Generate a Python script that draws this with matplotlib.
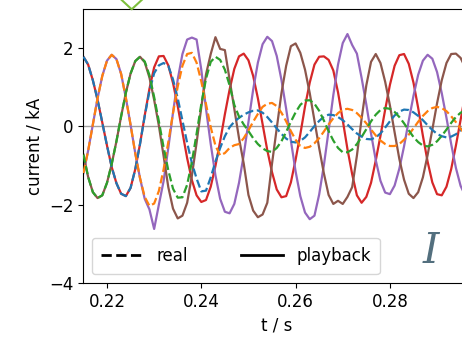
import matplotlib
matplotlib.use("Agg")
import matplotlib.pyplot as plt
from matplotlib.lines import Line2D
from matplotlib.ticker import MultipleLocator

# sample times in ms (1 ms spacing)
t_ms = [215, 216, 217, 218, 219, 220, 221, 222, 223, 224,
        225, 226, 227, 228, 229, 230, 231, 232, 233, 234,
        235, 236, 237, 238, 239, 240, 241, 242, 243, 244,
        245, 246, 247, 248, 249, 250, 251, 252, 253, 254,
        255, 256, 257, 258, 259, 260, 261, 262, 263, 264,
        265, 266, 267, 268, 269, 270, 271, 272, 273, 274,
        275, 276, 277, 278, 279, 280, 281, 282, 283, 284,
        285, 286, 287, 288, 289, 290, 291, 292, 293, 294,
        295, 296]

# real currents (dashed), kA
real_a = [1.78, 1.58, 1.18, 0.68, 0.10, -0.49, -1.04, -1.45, -1.72, -1.78,
          -1.57, -1.09, -0.45, 0.26, 0.90, 1.36, 1.56, 1.62, 1.55, 1.20,
          0.72, 0.15, -0.42, -0.93, -1.33, -1.66, -1.64, -1.30, -0.90, -0.55,
          -0.25, -0.02, 0.12, 0.22, 0.30, 0.36, 0.40, 0.41, 0.35, 0.24,
          0.10, -0.05, -0.19, -0.31, -0.39, -0.41, -0.37, -0.28, -0.14, 0.01,
          0.14, 0.25, 0.30, 0.29, 0.24, 0.16, 0.05, -0.07, -0.18, -0.26,
          -0.32, -0.33, -0.28, -0.18, -0.03, 0.13, 0.28, 0.38, 0.43, 0.42,
          0.36, 0.27, 0.16, 0.03, -0.09, -0.19, -0.25, -0.28, -0.26, -0.20,
          -0.10, 0.02]
real_b = [-1.19, -0.62, 0.05, 0.72, 1.29, 1.68, 1.83, 1.72, 1.34, 0.73,
          0.04, -0.69, -1.32, -1.80, -2.03, -1.97, -1.65, -1.10, -0.40, 0.34,
          1.02, 1.55, 1.85, 1.88, 1.63, 1.15, 0.57, -0.02, -0.49, -0.74,
          -0.68, -0.55, -0.48, -0.45, -0.30, -0.10, 0.12, 0.32, 0.50, 0.58,
          0.60, 0.52, 0.35, 0.13, -0.12, -0.34, -0.50, -0.55, -0.52, -0.43,
          -0.30, -0.13, 0.05, 0.21, 0.34, 0.43, 0.45, 0.42, 0.34, 0.22,
          0.08, -0.08, -0.23, -0.36, -0.45, -0.50, -0.50, -0.45, -0.34, -0.21,
          -0.05, 0.12, 0.27, 0.39, 0.47, 0.50, 0.47, 0.39, 0.26, 0.11,
          -0.06, -0.21]
real_c = [-0.72, -1.29, -1.68, -1.83, -1.76, -1.44, -0.96, -0.38, 0.26, 0.86,
          1.35, 1.67, 1.78, 1.66, 1.31, 0.75, 0.13, -0.53, -1.12, -1.59,
          -1.82, -1.81, -1.49, -0.91, -0.19, 0.57, 1.22, 1.65, 1.78, 1.70,
          1.45, 1.05, 0.55, 0.25, 0.05, -0.12, -0.30, -0.45, -0.56, -0.63,
          -0.65, -0.55, -0.38, -0.14, 0.12, 0.36, 0.55, 0.66, 0.67, 0.58,
          0.40, 0.15, -0.12, -0.36, -0.55, -0.66, -0.66, -0.59, -0.45, -0.27,
          -0.07, 0.13, 0.30, 0.42, 0.47, 0.45, 0.37, 0.24, 0.08, -0.10,
          -0.27, -0.40, -0.49, -0.51, -0.47, -0.38, -0.24, -0.08, 0.09, 0.24,
          0.35, 0.41]

# playback currents (solid), kA
play_a = [1.78, 1.58, 1.18, 0.68, 0.10, -0.49, -1.04, -1.45, -1.72, -1.78,
          -1.57, -1.09, -0.45, 0.28, 0.96, 1.51, 1.79, 1.80, 1.56, 1.11,
          0.52, -0.15, -0.81, -1.37, -1.76, -1.93, -1.88, -1.54, -1.01, -0.38,
          0.31, 0.94, 1.47, 1.79, 1.86, 1.69, 1.29, 0.72, 0.06, -0.61,
          -1.17, -1.61, -1.81, -1.78, -1.43, -0.85, -0.20, 0.51, 1.12, 1.58,
          1.78, 1.79, 1.70, 1.43, 0.87, 0.16, -0.58, -1.22, -1.76, -1.95,
          -1.80, -1.44, -0.87, -0.24, 0.43, 1.06, 1.55, 1.82, 1.85, 1.60,
          1.12, 0.47, -0.24, -0.90, -1.43, -1.73, -1.76, -1.54, -1.09, -0.49,
          0.17, 0.83]
play_b = [-1.19, -0.62, 0.05, 0.72, 1.29, 1.68, 1.83, 1.72, 1.34, 0.73,
          0.04, -0.69, -1.32, -1.85, -2.12, -2.62, -2.00, -1.40, -0.55, 0.35,
          1.20, 1.85, 2.22, 2.27, 2.22, 1.45, 0.45, -0.45, -1.25, -1.85,
          -2.18, -2.22, -1.98, -1.44, -0.73, 0.11, 0.94, 1.63, 2.10, 2.29,
          2.18, 1.80, 1.19, 0.45, -0.36, -1.15, -1.78, -2.20, -2.37, -2.28,
          -1.74, -0.99, -0.11, 0.80, 1.58, 2.13, 2.36, 2.08, 1.86, 1.24,
          0.56, -0.18, -0.86, -1.39, -1.69, -1.73, -1.51, -1.08, -0.51, 0.15,
          0.78, 1.32, 1.68, 1.83, 1.73, 1.39, 0.85, 0.22, -0.45, -1.06,
          -1.52, -1.77]
play_c = [-0.72, -1.29, -1.68, -1.83, -1.76, -1.44, -0.96, -0.38, 0.26, 0.86,
          1.35, 1.67, 1.78, 1.64, 1.25, 0.68, 0.02, -0.75, -1.55, -2.10,
          -2.35, -2.28, -1.95, -1.26, -0.42, 0.49, 1.33, 1.85, 2.28, 1.98,
          1.95, 1.20, 0.45, -0.30, -0.95, -1.75, -2.15, -2.32, -2.25, -1.95,
          -0.95, -0.05, 0.85, 1.55, 2.05, 2.12, 1.88, 1.45, 0.85, 0.15,
          -0.55, -1.20, -1.75, -1.98, -1.90, -1.98, -1.80, -1.55, -0.75, 0.20,
          1.05, 1.65, 1.85, 1.62, 1.14, 0.54, -0.15, -0.83, -1.36, -1.72,
          -1.83, -1.68, -1.30, -0.73, -0.08, 0.59, 1.18, 1.62, 1.85, 1.86,
          1.75, 1.50]

plt.rcParams["font.size"] = 12

t = [v / 1000 for v in t_ms]

fig = plt.figure(figsize=(4.62, 3.43), dpi=100)
ax = fig.add_axes([83 / 462, 60 / 343, 387 / 462, 274 / 343])

ax.axhline(0, color="#a0a0a0", lw=1, zorder=1)

ax.plot(t, play_a, color="#d62728", lw=1.6, zorder=2)
ax.plot(t, play_b, color="#9467bd", lw=1.6, zorder=2)
ax.plot(t, play_c, color="#8c564b", lw=1.6, zorder=2)
ax.plot(t, real_a, "--", color="#1f77b4", lw=1.6, zorder=3)
ax.plot(t, real_b, "--", color="#ff7f0e", lw=1.6, zorder=3)
ax.plot(t, real_c, "--", color="#2ca02c", lw=1.6, zorder=3)

ax.set_xlim(0.21491, 0.29699)
ax.set_ylim(-4, 3)
ax.xaxis.set_major_locator(MultipleLocator(0.02))
ax.yaxis.set_major_locator(MultipleLocator(2))
ax.set_xlabel("t / s")
ax.set_ylabel("current / kA")

handles = [Line2D([], [], color="black", ls="--", lw=2),
           Line2D([], [], color="black", ls="-", lw=2)]
ax.legend(handles, ["real", "playback"], ncol=2, loc="lower left",
          bbox_to_anchor=(9 / 387, 9 / 274), borderaxespad=0,
          borderpad=0.55, handlelength=2.5, columnspacing=3.2)

ax.text(432, 343 - 251, "$I$", transform=None, fontsize=30, color="#536f7e",
        ha="center", va="center", math_fontfamily="dejavuserif")

# green tick mark peeking above the axes
fig.add_artist(Line2D([121.7 / 462, 131.7 / 462, 141.7 / 462],
                      [1.0, 1 - 9.3 / 343, 1.0], color="#7dbf3c", lw=1.5))

fig.savefig("out.png", dpi=100)
